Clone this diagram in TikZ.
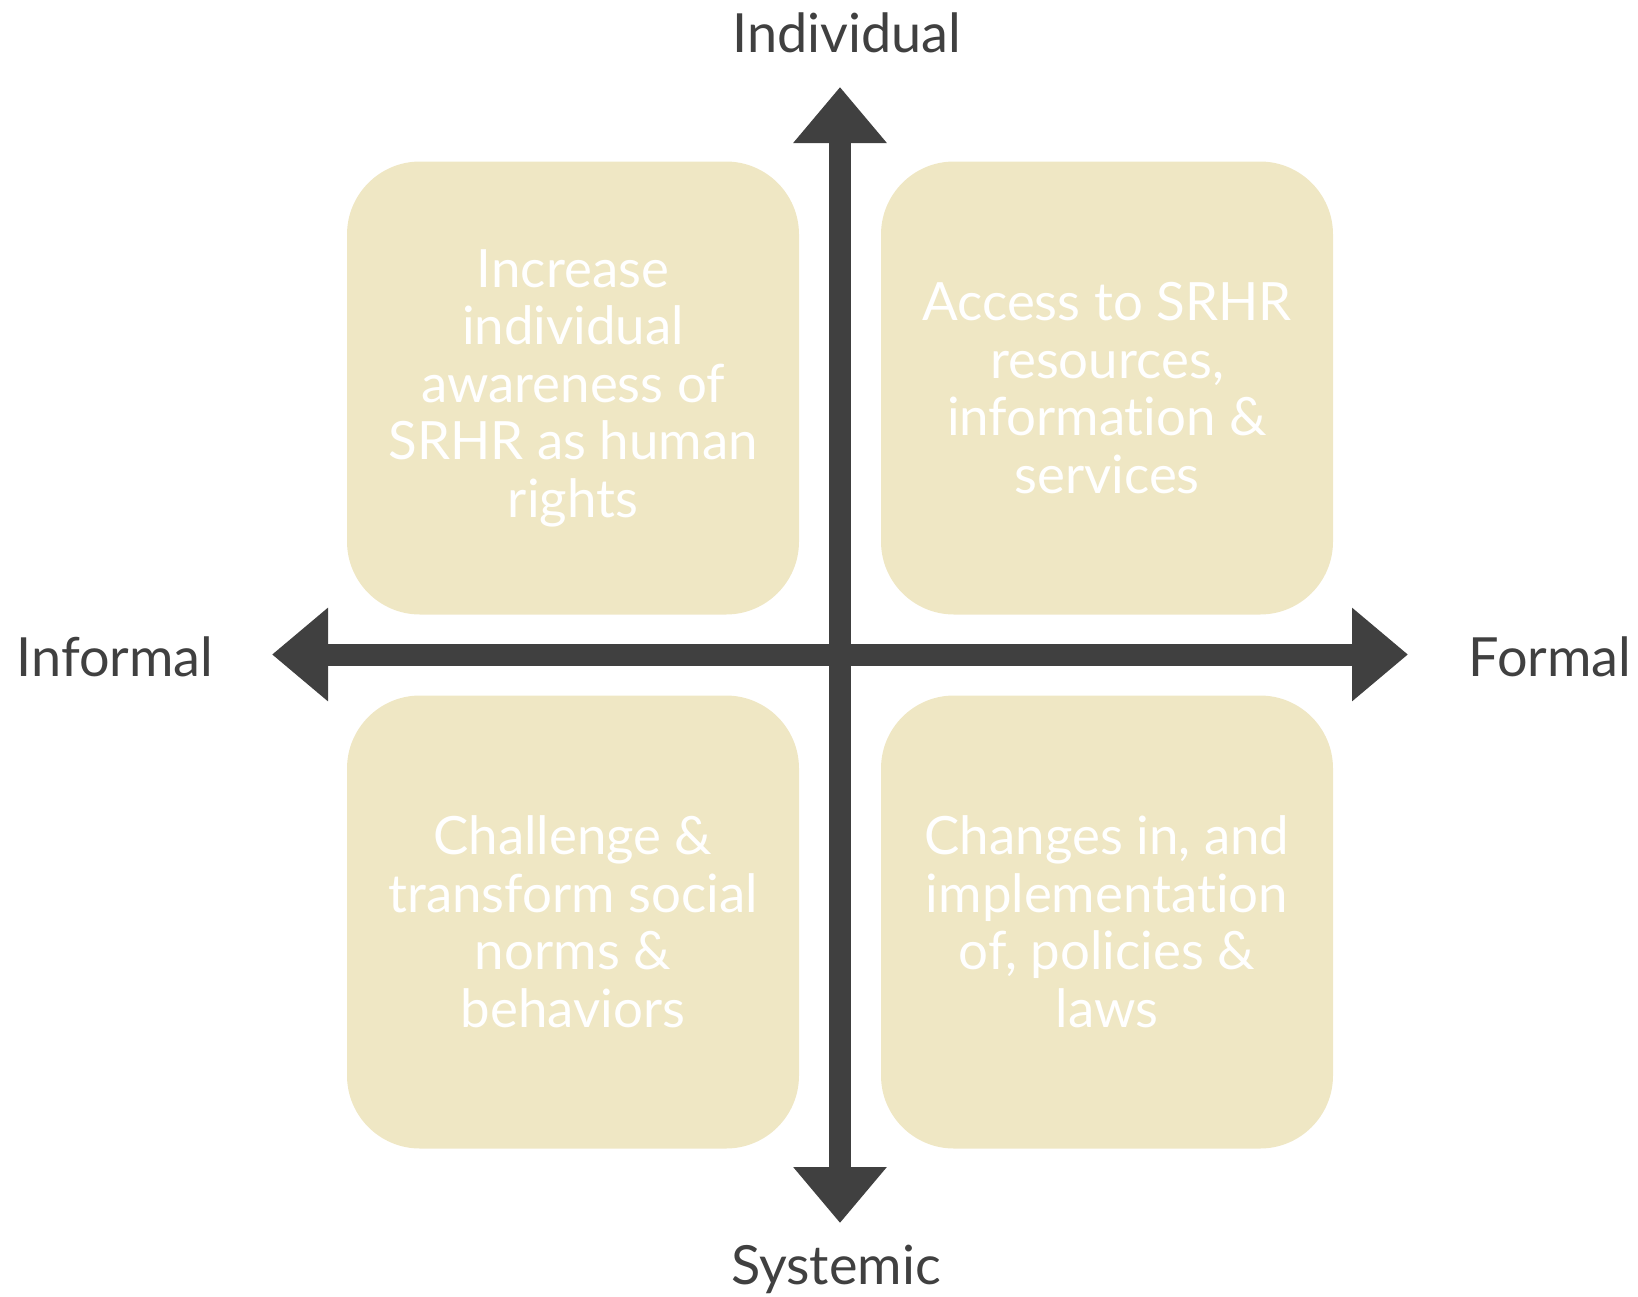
\documentclass[tikz,border=0pt]{standalone}
\usepackage{fontspec}
\setmainfont{Lato}[Ligatures=NoCommon]
\usepackage{tikz}
\usetikzlibrary{arrows.meta}

\definecolor{boxfill}{HTML}{EFE7C4}
\definecolor{axisgray}{HTML}{404040}

\begin{document}
\begin{tikzpicture}[x=1pt, y=-1pt,
        every node/.style={font=\fontsize{54}{57.5}\selectfont},
        quadrant/.style={rectangle, rounded corners=73pt, fill=boxfill, text=white,
            minimum width=452pt, minimum height=453pt, inner sep=0pt, align=center,
            font=\fontsize{52.8}{57.5}\selectfont},
        axislabel/.style={anchor=base, text=axisgray, inner sep=0pt},
        axisarrow/.style={line width=22pt, draw=axisgray,
            {Triangle[width=90pt, length=56pt]}-{Triangle[width=90pt, length=56pt]}}]
        \useasboundingbox (0, 0) rectangle (1638, 1296);

        % Nodes
        \node[quadrant] (awareness) at (573, 388) {Increase\\individual\\awareness of\\SRHR as human\\rights};
        \node[quadrant] (access) at (1107, 388) {Access to SRHR\\resources,\\information \&\\services};
        \node[quadrant] (norms) at (573, 922) {Challenge \&\\transform social\\norms \&\\behaviors};
        \node[quadrant] (policies) at (1107, 922) {Changes in, and\\implementation\\of, policies \&\\laws};

        \node[axislabel] (individual) at (847, 52) {Individual};
        \node[axislabel] (systemic) at (836, 1284) {Systemic};
        \node[axislabel] (informal) at (115, 676) {Informal};
        \node[axislabel] (formal) at (1550, 676) {Formal};

        \coordinate (top) at (840, 87);
        \coordinate (bottom) at (840, 1223);
        \coordinate (left) at (272, 654.5);
        \coordinate (right) at (1408, 654.5);

        % Lines
        \draw[axisarrow] (bottom) -- (top);
        \draw[axisarrow] (left) -- (right);
    \end{tikzpicture}
\end{document}
